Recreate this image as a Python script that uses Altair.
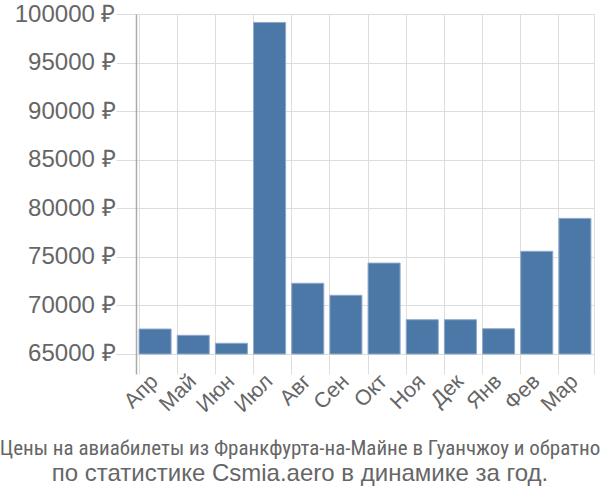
import altair as alt
import pandas as pd

months = ["Апр", "Май", "Июн", "Июл", "Авг", "Сен", "Окт", "Ноя", "Дек", "Янв", "Фев", "Мар"]
prices = [67570, 66920, 66100, 99130, 72280, 71040, 74360, 68530, 68530, 67600, 75570, 78960]
tick_values = [65000, 70000, 75000, 80000, 85000, 90000, 95000, 100000]
base_value = 65000

df = pd.DataFrame({"month": months, "price": prices})

yscale = alt.Scale(domain=[62940, 100000], zero=False, nice=False, clamp=True)
xscale = alt.Scale(paddingInner=0.16, paddingOuter=0.08)

bars = alt.Chart(df).mark_bar(color="#4c78a8", stroke="#8eaacb", strokeWidth=1).encode(
    x=alt.X("month:N", sort=months, scale=xscale,
            axis=alt.Axis(title=None, labelAngle=-45, labelAlign="right", labelBaseline="middle",
                          labelFontSize=21.5, labelColor="#666666", labelFont="Liberation Sans",
                          grid=True, gridColor="#dddddd", bandPosition=0,
                          domain=False, ticks=False, labelPadding=4)),
    y=alt.Y("price:Q", scale=yscale,
            axis=alt.Axis(title=None, values=tick_values, labelExpr="datum.value + ' ₽'",
                          labelFontSize=24, labelColor="#666666", labelFont="Liberation Sans",
                          grid=True, gridColor="#dddddd", tickColor="#dddddd", tickSize=20,
                          labelPadding=1, domainColor="#aaaaaa", domainWidth=1.5)),
    y2=alt.datum(base_value),
)

right = alt.Chart(df).mark_bar(opacity=0).encode(
    x=alt.X("month:N", sort=months, scale=xscale),
    y=alt.Y("price:Q", scale=yscale,
            axis=alt.Axis(orient="right", title=None, labels=False, ticks=False, grid=False,
                          domainColor="#dddddd", values=tick_values)),
)

chart = alt.layer(bars, right).resolve_scale(y="independent").properties(
    width=458, height=360,
    autosize=alt.AutoSizeParams(type="none"),
    padding={"left": 136, "top": 14, "right": 6, "bottom": 126},
    title=alt.TitleParams(
        text="Цены на авиабилеты из Франкфурта-на-Майне в Гуанчжоу и обратно",
        subtitle="по статистике Csmia.aero в динамике за год.",
        orient="bottom", anchor="middle", frame="group", dx=-65,
        font="Liberation Sans Narrow, Roboto Condensed, Liberation Sans", fontSize=21,
        fontWeight="normal", color="#666666",
        subtitleFont="Liberation Sans", subtitleFontSize=24, subtitleColor="#666666",
        offset=22, subtitlePadding=3,
    ),
).configure_view(stroke=None)

chart.save("out.html", embed_options={"renderer": "svg", "actions": False})
